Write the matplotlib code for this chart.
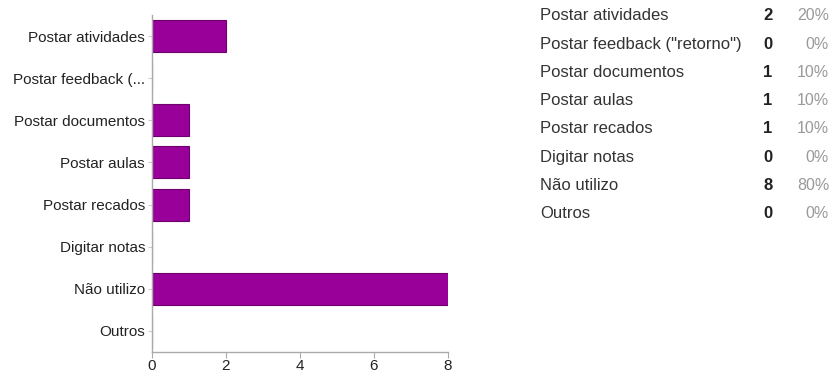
import matplotlib
matplotlib.use("Agg")
import matplotlib.pyplot as plt

plt.rcParams['font.family'] = ['Liberation Sans', 'DejaVu Sans']

# chart data
bar_labels = ['Postar atividades', 'Postar feedback (...', 'Postar documentos', 'Postar aulas',
              'Postar recados', 'Digitar notas', 'Não utilizo', 'Outros']
counts = [2, 0, 1, 1, 1, 0, 8, 0]
x_ticks = [0, 2, 4, 6, 8]

# summary table on the right
table_labels = ['Postar atividades', 'Postar feedback ("retorno")', 'Postar documentos', 'Postar aulas',
                'Postar recados', 'Digitar notas', 'Não utilizo', 'Outros']
table_pcts = ['20%', '0%', '10%', '10%', '10%', '0%', '80%', '0%']

W, H = 832, 376
fig = plt.figure(figsize=(W / 100, H / 100), dpi=100)
ax = fig.add_axes([152 / W, 24 / H, 296 / W, 337 / H])

pos = list(range(len(bar_labels)))
ax.barh(pos, counts, height=0.76, color='#990099', edgecolor='#6e006e', linewidth=0.8)
ax.set_ylim(len(bar_labels) - 0.5, -0.5)
ax.set_xlim(0, 8)
ax.set_yticks(pos)
ax.set_yticklabels(bar_labels, fontsize=11, color='#222222')
ax.set_xticks(x_ticks)
ax.set_xticklabels([str(t) for t in x_ticks], fontsize=11, color='#222222')
for s in ['top', 'right']:
    ax.spines[s].set_visible(False)
for s in ['left', 'bottom']:
    ax.spines[s].set_color('#aaaaaa')
    ax.spines[s].set_linewidth(1.0)
ax.tick_params(axis='y', length=3, color='#cccccc', pad=2)
ax.tick_params(axis='x', length=4, color='#aaaaaa', pad=1)

# table rows
y0, dy = 16, 28.2
for i, (lab, c, p) in enumerate(zip(table_labels, counts, table_pcts)):
    y = 1 - (y0 + i * dy) / H
    fig.text(540 / W, y, lab, fontsize=12, color='#333333', va='center', ha='left')
    fig.text(768 / W, y, str(c), fontsize=12, color='#222222', va='center', ha='center',
             fontweight='bold')
    fig.text(829 / W, y, p, fontsize=11.5, color='#999999', va='center', ha='right')

fig.savefig('out.png', dpi=100, facecolor='white')
